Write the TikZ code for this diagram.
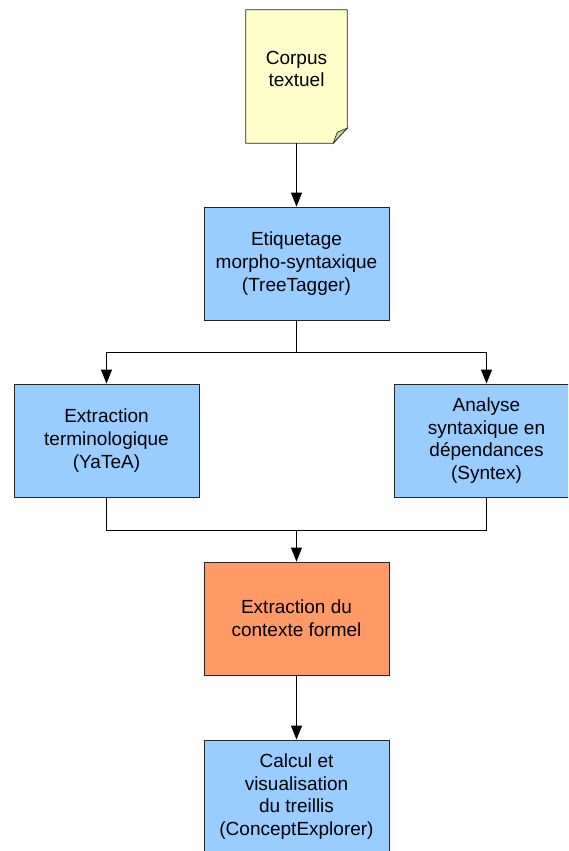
\documentclass[tikz,border=0pt]{standalone}
\usepackage{fontspec}
\setmainfont{Liberation Sans}
\usetikzlibrary{arrows.meta}
\definecolor{docfill}{HTML}{FFFFCC}
\definecolor{foldfill}{HTML}{CCCC99}
\definecolor{bluefill}{HTML}{99CCFF}
\definecolor{orangefill}{HTML}{FF9966}
\begin{document}
\begin{tikzpicture}[x=1pt,y=-1pt,
  every node/.style={font=\fontsize{19}{22.6}\selectfont, align=center, inner sep=0pt},
  procbox/.style={draw=black!85, line width=0.8pt, minimum width=185pt, minimum height=113pt},
  bluebox/.style={procbox, fill=bluefill},
  orangebox/.style={procbox, fill=orangefill},
  link/.style={draw=black, line width=0.8pt},
  arr/.style={link, -{Triangle[length=14pt,width=11pt]}}]
\useasboundingbox (0,0) rectangle (568,851);
\clip (0,0) rectangle (568,851);
% document shape
\node[minimum width=101pt, minimum height=133pt] (doc) at (296.5,76.5) {};
\draw[fill=docfill, draw=black!85, line width=0.8pt]
  (doc.north west) -- (doc.north east) -- ([yshift=15pt]doc.south east)
  -- ([xshift=-14pt]doc.south east) -- (doc.south west) -- cycle;
\draw[fill=foldfill, draw=black!85, line width=0.6pt]
  ([yshift=15pt]doc.south east) -- ([xshift=-14pt]doc.south east)
  -- ([xshift=-10pt,yshift=11pt]doc.south east) -- cycle;
\node at (296.5,69) {Corpus\\textuel};
% boxes
\node[bluebox] (etiq) at (296.5,263.5) {Etiquetage\\morpho-syntaxique\\(TreeTagger)};
\node[bluebox] (left) at (106.5,440.5) {Extraction\\terminologique\\(YaTeA)};
\node[bluebox] (right) at (486.5,440.5) {Analyse\\syntaxique en\\dépendances\\(Syntex)};
\node[orangebox] (ctx) at (296.5,618.5) {Extraction du\\contexte formel};
\node[bluebox] (calc) at (296.5,796.5) {Calcul et\\visualisation\\du treillis\\(ConceptExplorer)};
% connectors
\coordinate (split) at (296.5,352);
\coordinate (merge) at (296.5,530);
\draw[arr] (doc.south) -- (etiq.north);
\draw[link] (etiq.south) -- (split);
\draw[arr] (split) -| (left.north);
\draw[arr] (split) -| (right.north);
\draw[link] (left.south) |- (merge);
\draw[link] (right.south) |- (merge);
\draw[arr] (merge) -- (ctx.north);
\draw[arr] (ctx.south) -- (calc.north);
\end{tikzpicture}
\end{document}
